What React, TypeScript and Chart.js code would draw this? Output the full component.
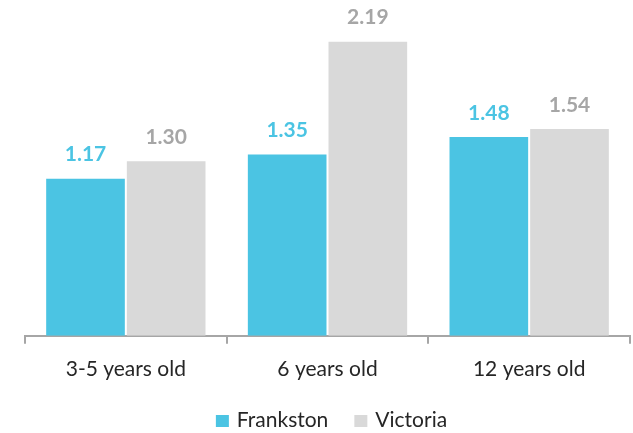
import React, { useEffect, useRef } from "react";
import { Chart, registerables } from "chart.js";

Chart.register(...registerables);

const categories = ["3-5 years old", "6 years old", "12 years old"];
const frankston = [1.17, 1.35, 1.48];
const victoria = [1.3, 2.19, 1.54];
const seriesNames = ["Frankston", "Victoria"];

const barColors = ["#4BC4E3", "#D9D9D9"];
const labelColors = ["#4BC4E3", "#A6A6A6"];
const textColor = "#262626";
const fontFamily = "Lato";

const valueLabels = {
  id: "valueLabels",
  afterDatasetsDraw(chart: any) {
    const ctx = chart.ctx;
    ctx.save();
    ctx.font = `bold 21px ${fontFamily}`;
    ctx.textAlign = "center";
    ctx.textBaseline = "middle";
    chart.data.datasets.forEach((ds: any, i: number) => {
      const meta = chart.getDatasetMeta(i);
      meta.data.forEach((bar: any, j: number) => {
        ctx.fillStyle = labelColors[i];
        ctx.fillText(Number(ds.data[j]).toFixed(2), bar.x, bar.y - 24);
      });
    });
    ctx.restore();
  },
};

const customLegend = {
  id: "customLegend",
  afterDraw(chart: any) {
    const ctx = chart.ctx;
    ctx.save();
    ctx.font = `21px ${fontFamily}`;
    ctx.textBaseline = "alphabetic";
    ctx.textAlign = "left";
    const box = 13;
    const gap = 8;
    const itemGap = 26;
    const widths = chart.data.datasets.map((ds: any) => box + gap + ctx.measureText(ds.label).width);
    const total = widths.reduce((a: number, b: number) => a + b, 0) + itemGap * (widths.length - 1);
    const center = (chart.chartArea.left + chart.chartArea.right) / 2 + 4;
    let x = center - total / 2;
    const baseline = 427;
    chart.data.datasets.forEach((ds: any, i: number) => {
      ctx.fillStyle = ds.backgroundColor;
      ctx.fillRect(x, baseline - 12, box, 12);
      ctx.fillStyle = textColor;
      ctx.fillText(ds.label, x + box + gap, baseline);
      x += widths[i] + itemGap;
    });
    ctx.restore();
  },
};

export default function App() {
  const ref = useRef<HTMLCanvasElement>(null);
  useEffect(() => {
    document.body.style.margin = "0";
    const chart = new Chart(ref.current!, {
      type: "bar",
      data: {
        labels: categories,
        datasets: [
          { label: seriesNames[0], data: frankston, backgroundColor: barColors[0] },
          { label: seriesNames[1], data: victoria, backgroundColor: barColors[1] },
        ],
      },
      options: {
        animation: false,
        responsive: false,
        layout: { padding: { left: 25, right: 3, top: 0, bottom: 38 } },
        datasets: { bar: { categoryPercentage: 0.8, barPercentage: 0.975 } } as any,
        scales: {
          x: {
            offset: true,
            grid: {
              offset: true,
              drawOnChartArea: false,
              drawTicks: true,
              tickLength: 8,
              color: "#A6A6A6",
              lineWidth: 2,
            },
            border: { display: true, color: "#A6A6A6", width: 2 },
            ticks: { color: textColor, font: { family: fontFamily, size: 21 }, padding: 13 },
          },
          y: {
            display: false,
            min: 0,
            max: 2.5,
          },
        },
        plugins: {
          legend: { display: false },
          tooltip: { enabled: false },
        },
      },
      plugins: [valueLabels, customLegend],
    });
    return () => chart.destroy();
  }, []);
  return <canvas ref={ref} width={633} height={433} style={{ display: "block" }} />;
}
